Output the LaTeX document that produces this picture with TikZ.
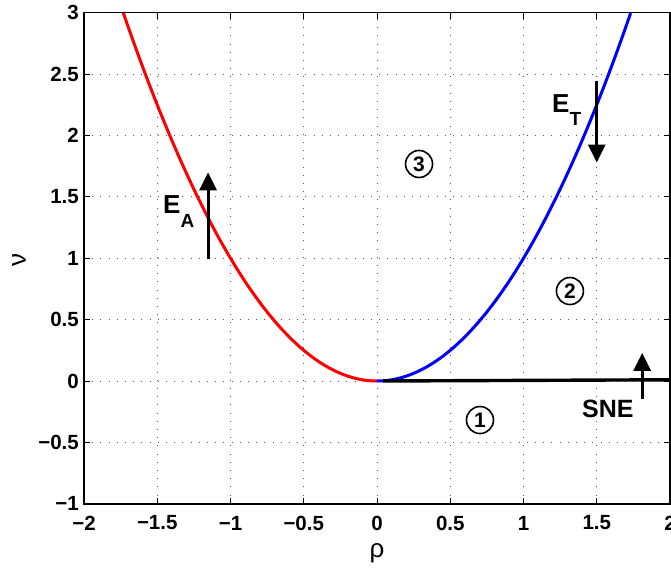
\documentclass[tikz,border=0pt]{standalone}
\usepackage{fontspec}
\setmainfont{Liberation Sans}
\usetikzlibrary{arrows.meta}
\tikzset{
  gridline/.style={black!65, line width=0.8pt, dash pattern=on 0.9pt off 7.3pt},
  axisbox/.style={black, line width=1.5pt},
  tickmark/.style={black, line width=1pt},
  ticklab/.style={inner sep=0pt, font=\fontsize{20.5}{20.5}\selectfont\bfseries},
  curve/.style={line width=3pt},
  bigarrow/.style={line width=3pt, -{Triangle[width=17pt,length=18pt]}},
  lab/.style={inner sep=0pt, anchor=base west, font=\fontsize{26}{26}\selectfont\bfseries},
  region/.style={circle, draw, line width=1.6pt, minimum size=27pt, inner sep=0pt, font=\fontsize{21}{21}\selectfont\bfseries},
  axlab/.style={inner sep=0pt, font=\fontsize{26}{26}\selectfont}
}
\begin{document}
\begin{tikzpicture}[x=146.5pt, y=122.75pt]
\useasboundingbox (-2.57338,-1.52342) rectangle (2.00683,3.10387);
% grid
\foreach \gx in {-1.5,-1,-0.5,0,0.5,1,1.5}
  \draw[gridline] (\gx,-1) -- (\gx,3);
\foreach \gy in {-0.5,0,0.5,1,1.5,2,2.5}
  \draw[gridline] (-2,\gy) -- (2,\gy);
% ticks
\foreach \gx in {-1.5,-1,-0.5,0,0.5,1,1.5} {
  \draw[tickmark] (\gx,-1) -- ++(0,6pt);
  \draw[tickmark] (\gx,3) -- ++(0,-6pt);
}
\foreach \gy in {-0.5,0,0.5,1,1.5,2,2.5} {
  \draw[tickmark] (-2,\gy) -- ++(6pt,0);
  \draw[tickmark] (2,\gy) -- ++(-6pt,0);
}
% tick labels
\foreach \gx/\t in {-2/−2,-1.5/−1.5,-1/−1,-0.5/−0.5,0/0,0.5/0.5,1/1,1.5/1.5,2/2}
  \node[ticklab] (xt\gx) at (\gx,-1.157) {\t};
\foreach \gy/\t in {-1/−1,-0.5/−0.5,0/0,0.5/0.5,1/1,1.5/1.5,2/2,2.5/2.5,3/3}
  \node[ticklab, anchor=east] (yt\gy) at (-2.034,\gy) {\t};
% axis labels
\node[axlab] (xlab) at (0,-1.40) {ρ};
\node[axlab, rotate=90] (ylab) at (-2.444,0.986) {ν};
% curves
\draw[curve, red] plot[domain=-1.7320:0, samples=80, smooth] (\x,{\x*\x});
\draw[curve, blue] plot[domain=0:1.7320, samples=80, smooth] (\x,{\x*\x});
\coordinate (sneA) at (0.04,0);
\coordinate (sneB) at (2,0.01);
\draw[line width=3.4pt, black] (sneA) -- (sneB);
% arrows
\coordinate (eaS) at (-1.153,0.99);
\coordinate (eaE) at (-1.153,1.70);
\draw[bigarrow] (eaS) -- (eaE);
\coordinate (etS) at (1.5,2.44);
\coordinate (etE) at (1.5,1.78);
\draw[bigarrow] (etS) -- (etE);
\coordinate (snS) at (1.81,-0.15);
\coordinate (snE) at (1.81,0.23);
\draw[bigarrow] (snS) -- (snE);
% labels
\node[lab] (EA) at (-1.4608,1.3686) {E\raisebox{-14pt}{\fontsize{19}{19}\selectfont A}};
\node[lab] (ET) at (1.1945,2.1914) {E\raisebox{-13pt}{\fontsize{19}{19}\selectfont T}};
\node[lab, font=\fontsize{25}{25}\selectfont\bfseries] (SNE) at (1.3993,-0.2933) {SNE};
% regions
\node[region] (r1) at (0.703,-0.318) {1};
\node[region] (r2) at (1.317,0.733) {2};
\node[region] (r3) at (0.287,1.768) {3};
% axis box
\draw[axisbox] (-2,-1) rectangle (2,3);
\end{tikzpicture}
\end{document}
